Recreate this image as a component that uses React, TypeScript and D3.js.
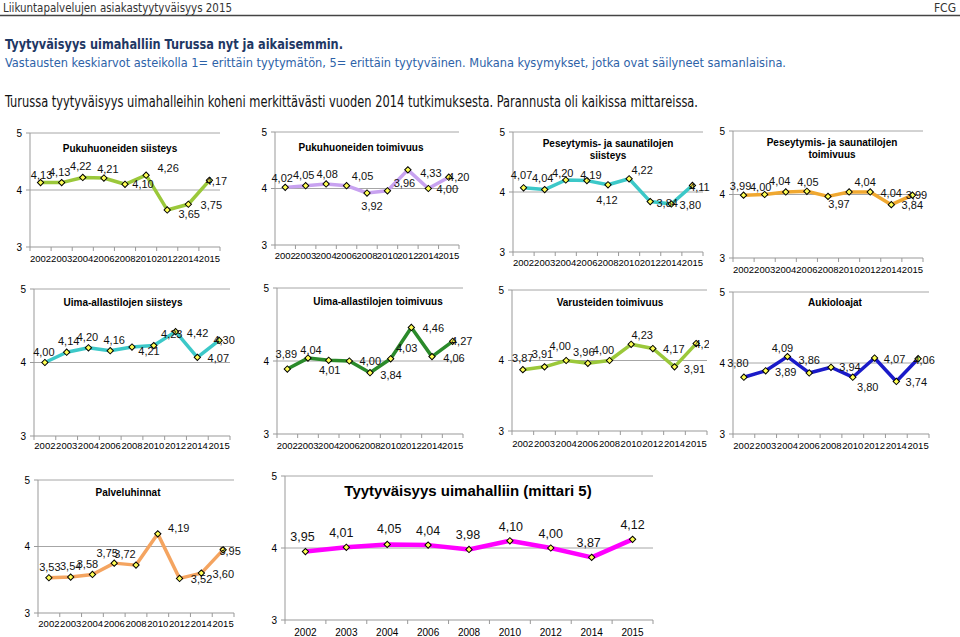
import React from 'react';
import * as d3 from 'd3';

const years = ['2002', '2003', '2004', '2006', '2008', '2010', '2012', '2014', '2015'];
const yTicks = [3, 4, 5];

const pukuSiisteys = [4.13, 4.13, 4.22, 4.21, 4.10, 4.26, 3.65, 3.75, 4.17];
const pukuToimivuus = [4.02, 4.05, 4.08, 4.05, 3.92, 3.96, 4.33, 4.00, 4.20];
const pesuSiisteys = [4.07, 4.04, 4.20, 4.19, 4.12, 4.22, 3.84, 3.80, 4.11];
const pesuToimivuus = [3.99, 4.00, 4.04, 4.05, 3.97, 4.04, 4.04, 3.84, 3.99];
const allasSiisteys = [4.00, 4.14, 4.20, 4.16, 4.21, 4.23, 4.42, 4.07, 4.30];
const allasToimivuus = [3.89, 4.04, 4.01, 4.00, 3.84, 4.03, 4.46, 4.06, 4.27];
const varusteet = [3.87, 3.91, 4.00, 3.96, 4.00, 4.23, 4.17, 3.91, 4.24];
const aukiolo = [3.80, 3.89, 4.09, 3.86, 3.94, 3.80, 4.07, 3.74, 4.06];
const hinnat = [3.53, 3.54, 3.58, 3.75, 3.72, 4.19, 3.52, 3.60, 3.95];
const kokonais = [3.95, 4.01, 4.05, 4.04, 3.98, 4.10, 4.00, 3.87, 4.12];

const chartTitles = [
  ['Pukuhuoneiden siisteys'],
  ['Pukuhuoneiden toimivuus'],
  ['Peseytymis- ja saunatilojen', 'siisteys'],
  ['Peseytymis- ja saunatilojen', 'toimivuus'],
  ['Uima-allastilojen siisteys'],
  ['Uima-allastilojen toimivuus'],
  ['Varusteiden toimivuus'],
  ['Aukioloajat'],
  ['Palveluhinnat'],
  ['Tyytyväisyys uimahalliin (mittari 5)'],
];
const seriesList = [pukuSiisteys, pukuToimivuus, pesuSiisteys, pesuToimivuus, allasSiisteys, allasToimivuus, varusteet, aukiolo, hinnat, kokonais];

const headerText = 'Liikuntapalvelujen asiakastyytyväisyys 2015';
const headerRight = 'FCG';
const titleText = 'Tyytyväisyys uimahalliin Turussa nyt ja aikaisemmin.';
const subText = 'Vastausten keskiarvot asteikolla 1= erittäin tyytymätön, 5= erittäin tyytyväinen. Mukana kysymykset, jotka ovat säilyneet samanlaisina.';
const bodyText = 'Turussa tyytyväisyys uimahalleihin koheni merkittävästi vuoden 2014 tutkimuksesta. Parannusta oli kaikissa mittareissa.';

// layout (positions / styles), separate from data
const layouts = [
  { x0: 30, x1: 220, y5: 133, y3: 247, xl: 258, tx: 120, ty: 148, color: '#9BC83A', lw: 3.5, tfs: 10, xfs: 9.5, clipR: 960, off: [[1, -8], [-2, -11], [-2, -11], [4, -9], [18, 0], [22, -7], [22, 4], [23, 1], [7, 1]] },
  { x0: 275, x1: 459, y5: 132, y3: 245, xl: 255, tx: 361, ty: 147, color: '#C8A2F0', lw: 3.5, tfs: 10, xfs: 9.5, clipR: 960, off: [[-3, -9], [-2, -11], [1, -10], [16, -10], [5, 13], [17, -8], [23, 3], [19, 0], [10, 0]] },
  { x0: 513, x1: 703, y5: 132, y3: 252, xl: 262, tx: 608, ty: 143, color: '#3CC8C8', lw: 3.5, tfs: 10, xfs: 9.5, clipR: 960, off: [[-2, -13], [-2, -12], [-3, -7], [4, -6], [-1, 15], [13, -9], [17, 1], [19, 1], [7, 2]] },
  { x0: 733, x1: 923, y5: 131, y3: 258, xl: 269, tx: 832, ty: 142, color: '#F0A830', lw: 3.5, tfs: 10, xfs: 9.5, clipR: 960, off: [[-3, -9], [-4, -8], [-6, -11], [1, -9], [11, 8], [16, -10], [21, 1], [21, 0], [4, 0]] },
  { x0: 34, x1: 230, y5: 289, y3: 436, xl: 445, tx: 123, ty: 302, color: '#3CC8C8', lw: 3.5, tfs: 10, xfs: 9.5, clipR: 960, off: [[-1, -11], [2, -11], [-1, -11], [4, -11], [17, 4], [18, -12], [22, 1], [21, 1], [5, 0]] },
  { x0: 277, x1: 463, y5: 288, y3: 434, xl: 445, tx: 378, ty: 301, color: '#2A8A2A', lw: 3.5, tfs: 10, xfs: 9.5, clipR: 960, off: [[-1, -15], [3, -8], [1, 10], [21, 0], [21, 2], [16, -11], [22, 1], [22, 1], [9, 0]] },
  { x0: 512, x1: 707, y5: 290, y3: 431, xl: 443, tx: 610, ty: 302, color: '#9BC83A', lw: 3.5, tfs: 10, xfs: 9.5, clipR: 709, off: [[0, -12], [-2, -13], [-6, -15], [-4, -11], [-6, -11], [11, -9], [21, 0], [20, 2], [9, 0]] },
  { x0: 733, x1: 929, y5: 292, y3: 434, xl: 445, tx: 835, ty: 302, color: '#1A1AC8', lw: 3.5, tfs: 10, xfs: 9.5, clipR: 960, off: [[-6, -14], [20, 1], [-5, -9], [0, -13], [19, 0], [15, 10], [20, 1], [20, 1], [6, 1]] },
  { x0: 38, x1: 234, y5: 480, y3: 613, xl: 623, tx: 128, ty: 492, color: '#F4A460', lw: 3.5, tfs: 10, xfs: 9.5, clipR: 960, off: [[1, -11], [0, -11], [-5, -10], [-7, -10], [-11, -11], [21, -6], [22, 1], [22, 1], [7, 1]] },
  { x0: 285, x1: 653, y5: 476, y3: 620, xl: 632, tx: 468, ty: 490, color: '#FF00FF', lw: 4.5, tfs: 15, xfs: 10, clipR: 960, off: [[-3, -15], [-5, -14], [2, -15], [0, -14], [-1, -14], [1, -14], [0, -14], [-3, -14], [0, -14]] },
];

const FONT = 'Liberation Sans, Arial, sans-serif';
const fmt = (v: number) => d3.format('.2f')(v).replace('.', ',');
const diamond = d3.symbol().type(d3.symbolSquare).size(20)() as string;

function MiniChart({ idx }: { idx: number }) {
  const L = layouts[idx];
  const values = seriesList[idx];
  const titles = chartTitles[idx];
  const x = d3.scaleBand<string>().domain(years).range([L.x0, L.x1]);
  const y = d3.scaleLinear().domain([3, 5]).range([L.y3, L.y5]);
  const cx = (i: number) => (x(years[i]) as number) + x.bandwidth() / 2;
  const line = d3.line<number>().x((_, i) => cx(i)).y((d) => y(d));
  const big = idx === 9;
  const labelFs = big ? 12.5 : 11;
  const clipId = `clip${idx}`;
  const bounds = [L.x0, ...years.map((yr) => (x(yr) as number) + x.bandwidth())];
  return (
    <g>
      <defs>
        <clipPath id={clipId}>
          <rect x={0} y={0} width={L.clipR} height={637} />
        </clipPath>
      </defs>
      <g clipPath={`url(#${clipId})`}>
        {yTicks.filter((t) => t > 3).map((t) => (
          <line key={t} x1={L.x0} x2={L.x1} y1={y(t)} y2={y(t)} stroke="#A6A6A6" strokeWidth={1} />
        ))}
        <line x1={L.x0} x2={L.x0} y1={L.y5} y2={L.y3} stroke="#999" strokeWidth={1} />
        <line x1={L.x0} x2={L.x1} y1={L.y3} y2={L.y3} stroke="#999" strokeWidth={1} />
        {yTicks.map((t) => (
          <g key={t}>
            <line x1={L.x0 - 4} x2={L.x0} y1={y(t)} y2={y(t)} stroke="#999" />
            <text x={L.x0 - 8} y={y(t)} textAnchor="end" dominantBaseline="central" fontFamily={FONT} fontSize={10} fill="#000">{t}</text>
          </g>
        ))}
        {bounds.map((b, i) => (
          <line key={i} x1={b} x2={b} y1={L.y3} y2={L.y3 + 4} stroke="#999" />
        ))}
        {years.map((yr, i) => (
          <text key={yr} x={cx(i)} y={L.xl} textAnchor="middle" dominantBaseline="central" fontFamily={FONT} fontSize={L.xfs} fill="#000">{yr}</text>
        ))}
        {titles.map((t, i) => (
          <text key={i} x={L.tx} y={L.ty + i * 12} textAnchor="middle" dominantBaseline="central" fontFamily={FONT} fontWeight="bold" fontSize={L.tfs} fill="#000">{t}</text>
        ))}
        <path d={line(values) as string} fill="none" stroke={L.color} strokeWidth={L.lw} strokeLinejoin="round" />
        {values.map((v, i) => (
          <path key={i} d={diamond} transform={`translate(${cx(i)},${y(v)}) rotate(45)`} fill="#FFFF55" stroke="#000" strokeWidth={1} />
        ))}
        {values.map((v, i) => (
          <text key={`l${i}`} x={cx(i) + L.off[i][0]} y={y(v) + L.off[i][1]} textAnchor="middle" dominantBaseline="central" fontFamily={FONT} fontSize={labelFs} fill="#111">{fmt(v)}</text>
        ))}
      </g>
    </g>
  );
}

export default function App() {
  const HF = 'Liberation Sans Narrow, DejaVu Sans Condensed, Open Sans, sans-serif';
  return (
    <svg width={960} height={637} style={{ position: 'absolute', left: 0, top: 0, background: '#fff' }}>
      <rect x={0} y={0} width={960} height={637} fill="#fff" />
      <text x={3} y={8} dominantBaseline="central" fontFamily={HF} fontSize={12} fill="#333" textLength={229} lengthAdjust="spacingAndGlyphs">{headerText}</text>
      <text x={956} y={8} textAnchor="end" dominantBaseline="central" fontFamily={HF} fontSize={12} fill="#333">{headerRight}</text>
      <line x1={0} x2={960} y1={15.5} y2={15.5} stroke="#444" strokeWidth={1.5} />
      <text x={5} y={44} dominantBaseline="central" fontFamily={HF} fontWeight="bold" fontSize={14} fill="#1F3864" textLength={338} lengthAdjust="spacingAndGlyphs">{titleText}</text>
      <text x={5} y={62} dominantBaseline="central" fontFamily={HF} fontSize={13} fill="#2D62A8" textLength={781} lengthAdjust="spacingAndGlyphs">{subText}</text>
      <text x={5} y={102} dominantBaseline="central" fontFamily={HF} fontSize={15} fill="#111" textLength={693} lengthAdjust="spacingAndGlyphs">{bodyText}</text>
      {layouts.map((_, i) => (
        <MiniChart key={i} idx={i} />
      ))}
    </svg>
  );
}
